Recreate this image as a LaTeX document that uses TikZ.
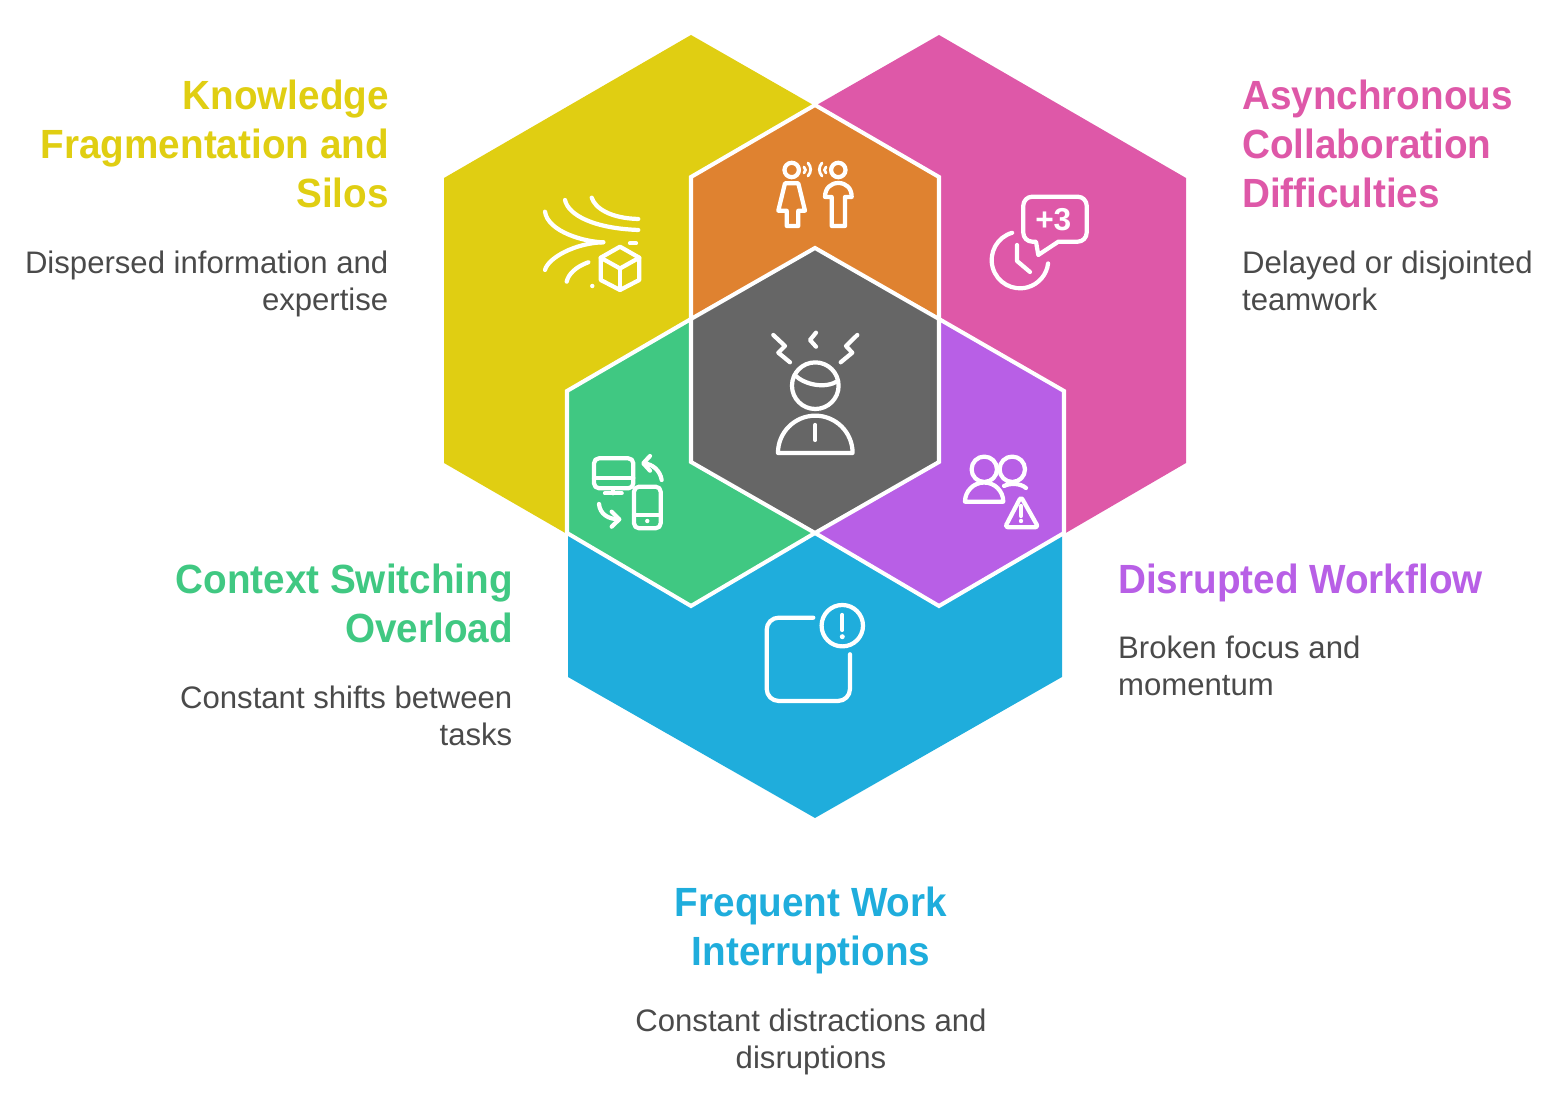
\documentclass[tikz,border=0pt]{standalone}
\usepackage{fontspec}
\setmainfont{Liberation Sans}
\newfontfamily\headfont[FakeStretch=0.948]{Liberation Sans}
\usetikzlibrary{positioning}
\definecolor{hexyellow}{HTML}{E0CE12}
\definecolor{hexpink}{HTML}{DE58A8}
\definecolor{hexorange}{HTML}{DF8230}
\definecolor{hexgray}{HTML}{666666}
\definecolor{hexgreen}{HTML}{40C882}
\definecolor{hexpurple}{HTML}{B85FE6}
\definecolor{hexblue}{HTML}{1FADDC}
\definecolor{blurbgray}{HTML}{4A4A4A}
\tikzset{
  divider/.style={
    draw=white,
    line width=1.15pt,
    line join=miter
  },
  iconline/.style={
    draw=white,
    line width=1.2pt,
    line cap=round,
    line join=round
  },
  icondot/.style={
    fill=white,
    draw=none
  },
  heading/.style={
    inner sep=0pt,
    font=\fontsize{11.6}{13.94}\selectfont\headfont\bfseries
  },
  blurb/.style={
    inner sep=0pt,
    text=blurbgray,
    font=\fontsize{8.85}{10.64}\selectfont
  }
}
\begin{document}
\begin{tikzpicture}[x=0.01cm,y=-0.01cm]
  \useasboundingbox (0,0) rectangle (1556,1095);

  % Coloured regions
  \fill[hexyellow] (691,35) -- (815,106) -- (691,177) -- (691,319) -- (567,391) -- (567,534) -- (444,463) -- (444,178) -- cycle;
  \fill[hexpink] (939,35) -- (815,106) -- (939,177) -- (939,319) -- (1064,391) -- (1064,534) -- (1186,463) -- (1186,178) -- cycle;
  \fill[hexblue] (815,533) -- (939,606) -- (1062,535) -- (1062,677) -- (815,818) -- (568,677) -- (568,535) -- (691,606) -- cycle;
  \fill[hexorange] (815,105) -- (939,177) -- (939,319) -- (815,248) -- (691,319) -- (691,177) -- cycle;
  \fill[hexgreen] (691,319) -- (691,462) -- (815,533) -- (691,606) -- (567,533) -- (567,391) -- cycle;
  \fill[hexpurple] (939,319) -- (939,462) -- (815,533) -- (939,606) -- (1064,533) -- (1064,391) -- cycle;
  \fill[hexgray] (815,248) -- (939,319) -- (939,462) -- (815,533) -- (691,462) -- (691,319) -- cycle;

  % White lines between the regions
  \draw[divider] (815,248) -- (939,319) -- (939,462) -- (815,533) -- (691,462) -- (691,319) -- cycle;
  \draw[divider] (691,319) -- (691,177) -- (815,105) -- (939,177) -- (939,319);
  \draw[divider] (691,319) -- (567,391) -- (567,533) -- (691,606) -- (815,533);
  \draw[divider] (939,319) -- (1064,391) -- (1064,533) -- (939,606) -- (815,533);

  % Scattered lines and cube
  \draw[iconline] (591.7,197.7) .. controls (595,208) and (610,218.3) .. (638.3,219);
  \draw[iconline] (565,200) .. controls (568.3,215) and (593.3,228.3) .. (638.3,230);
  \draw[iconline] (545,211.7) .. controls (548,232) and (585,242) .. (603.3,242.3);
  \draw[iconline] (603.3,242.3) .. controls (575,243) and (548,258) .. (545,270);
  \draw[iconline] (588.3,262.3) .. controls (575,267) and (568,275) .. (566.7,281.7);
  \draw[iconline] (630,243.3) -- (636,243.3);
  \fill[icondot] (592.3,286) circle[radius=0.22mm];
  \draw[iconline] (620,246.7) -- (639.3,257.7) -- (639.3,280) -- (620,290) -- (600.7,280) -- (600.7,257.7) -- cycle;
  \draw[iconline] (600.7,257.7) -- (620,268.5) -- (639.3,257.7);
  \draw[iconline] (620,268.5) -- (620,290);

  % Two people talking
  \draw[iconline] (791.7,170) circle[radius=0.72mm];
  \draw[iconline] (785,183.3) -- (798.3,183.3) -- (805,210.7) -- (798.3,210.7) -- (798.3,226) -- (786.7,226) -- (786.7,210.7) -- (778.3,210.7) -- cycle;
  \draw[iconline] (838.3,170) circle[radius=0.72mm];
  \draw[iconline] (825,197) .. controls (825,188) and (831,183) .. (838.3,183) .. controls (846,183) and (851.7,188) .. (851.7,197) -- (845,197) -- (845,226) -- (831.7,226) -- (831.7,197) -- cycle;
  \draw[iconline,line width=0.8pt] (804,167) .. controls (806,169) and (806,171) .. (804,173);
  \draw[iconline,line width=0.8pt] (808,163) .. controls (811.5,167) and (811.5,172) .. (808,176);
  \draw[iconline,line width=0.8pt] (826,167) .. controls (824,169) and (824,171) .. (826,173);
  \draw[iconline,line width=0.8pt] (822,163) .. controls (818.5,167) and (818.5,172) .. (822,176);

  % Clock and speech bubble
  \draw[iconline] (1020,260) +(106:2.83mm) arc[start angle=106,end angle=353,radius=2.83mm];
  \draw[iconline] (1038.3,255) -- (1058.3,241.7) [rounded corners=0.9mm] -- (1086.7,241.7) -- (1086.7,196.7) -- (1023.3,196.7) -- (1023.3,241.7) [sharp corners] -- (1036,241.7) -- cycle;
  \node[text=white,inner sep=0pt,font=\fontsize{9}{10}\selectfont\bfseries] (plusthree) at (1053.3,220) {+3};
  \draw[iconline] (1017,245) -- (1017,261) -- (1030,272);

  % Stressed person
  \draw[iconline] (815.3,385.7) circle[radius=2.33mm];
  \draw[iconline] (794.6,375) .. controls (805,385) and (825,389) .. (838,381);
  \draw[iconline] (778,453) -- (852.6,453) arc[start angle=0,end angle=180,radius=3.73mm] -- cycle;
  \draw[iconline] (815.3,425) -- (815.3,440);
  \draw[iconline] (773.3,335) -- (785,346) -- (778.3,352.7) -- (790,362.3);
  \draw[iconline] (816,332.7) -- (810,340) -- (816,346.7);
  \draw[iconline] (857.3,335) -- (846,346) -- (852.3,352.7) -- (840.7,362.3);

  % Monitor and phone
  \draw[iconline,rounded corners=0.5mm] (594,458.3) rectangle (633.3,488.3);
  \draw[iconline] (594,478.3) -- (633.3,478.3);
  \draw[iconline] (613.3,488.3) -- (613.3,493.3);
  \draw[iconline] (605,493.3) -- (621.7,493.3);
  \draw[iconline,rounded corners=0.5mm] (634,486.7) rectangle (660.7,528.3);
  \draw[iconline] (634,515) -- (660.7,515);
  \fill[icondot] (647.3,521) circle[radius=0.22mm];
  \draw[iconline] (661.7,480) .. controls (660,470) and (652,464) .. (644,463.3);
  \draw[iconline] (650,456) -- (643.3,463.3) -- (650,470.7);
  \draw[iconline] (599,504) .. controls (600,514) and (608,519.3) .. (619,519.3);
  \draw[iconline] (611.7,511.7) -- (619.3,519.3) -- (611.7,526.7);

  % People and warning
  \draw[iconline] (984.3,469.3) circle[radius=1.27mm];
  \draw[iconline] (965,501.7) -- (1003.3,501.7) arc[start angle=0,end angle=180,radius=1.915mm] -- cycle;
  \draw[iconline] (1012.3,469.3) circle[radius=1.27mm];
  \draw[iconline] (1004,486) .. controls (1010,483) and (1020,483) .. (1026,488);
  \draw[iconline,rounded corners=0.3mm] (1021,496.7) -- (1038.3,527.3) -- (1005,527.3) -- cycle;
  \draw[iconline] (1021,506) -- (1021,516);
  \fill[icondot] (1021,521) circle[radius=0.22mm];

  % Notification badge
  \draw[iconline,rounded corners=1.2mm] (813.3,617.7) -- (766.7,617.7) -- (766.7,701) -- (850,701) -- (850,654.3);
  \draw[iconline] (842.3,625.7) circle[radius=2.07mm];
  \draw[iconline] (842.3,615) -- (842.3,630);
  \fill[icondot] (842.3,636.7) circle[radius=0.25mm];

  % Labels
  \node[heading,text=hexyellow,anchor=north east,align=right] (knowledge) at (389.5,79) {Knowledge\\Fragmentation and\\Silos};
  \node[blurb,anchor=north east,align=right] (knowledgetext) at (389,250) {Dispersed information and\\expertise};
  \node[heading,text=hexpink,anchor=north west,align=left] (async) at (1241.5,79) {Asynchronous\\Collaboration\\Difficulties};
  \node[blurb,anchor=north west,align=left] (asynctext) at (1241.5,250) {Delayed or disjointed\\teamwork};
  \node[heading,text=hexgreen,anchor=north east,align=right] (context) at (513.5,563) {Context Switching\\Overload};
  \node[blurb,anchor=north east,align=right] (contexttext) at (513,685) {Constant shifts between\\tasks};
  \node[heading,text=hexpurple,anchor=north west,align=left] (workflow) at (1117.5,563) {Disrupted Workflow};
  \node[blurb,anchor=north west,align=left] (workflowtext) at (1117.5,635) {Broken focus and\\momentum};
  \node[heading,text=hexblue,anchor=north,align=center] (frequent) at (811,886) {Frequent Work\\Interruptions};
  \node[blurb,anchor=north,align=center] (frequenttext) at (811,1008) {Constant distractions and\\disruptions};

\end{tikzpicture}
\end{document}
